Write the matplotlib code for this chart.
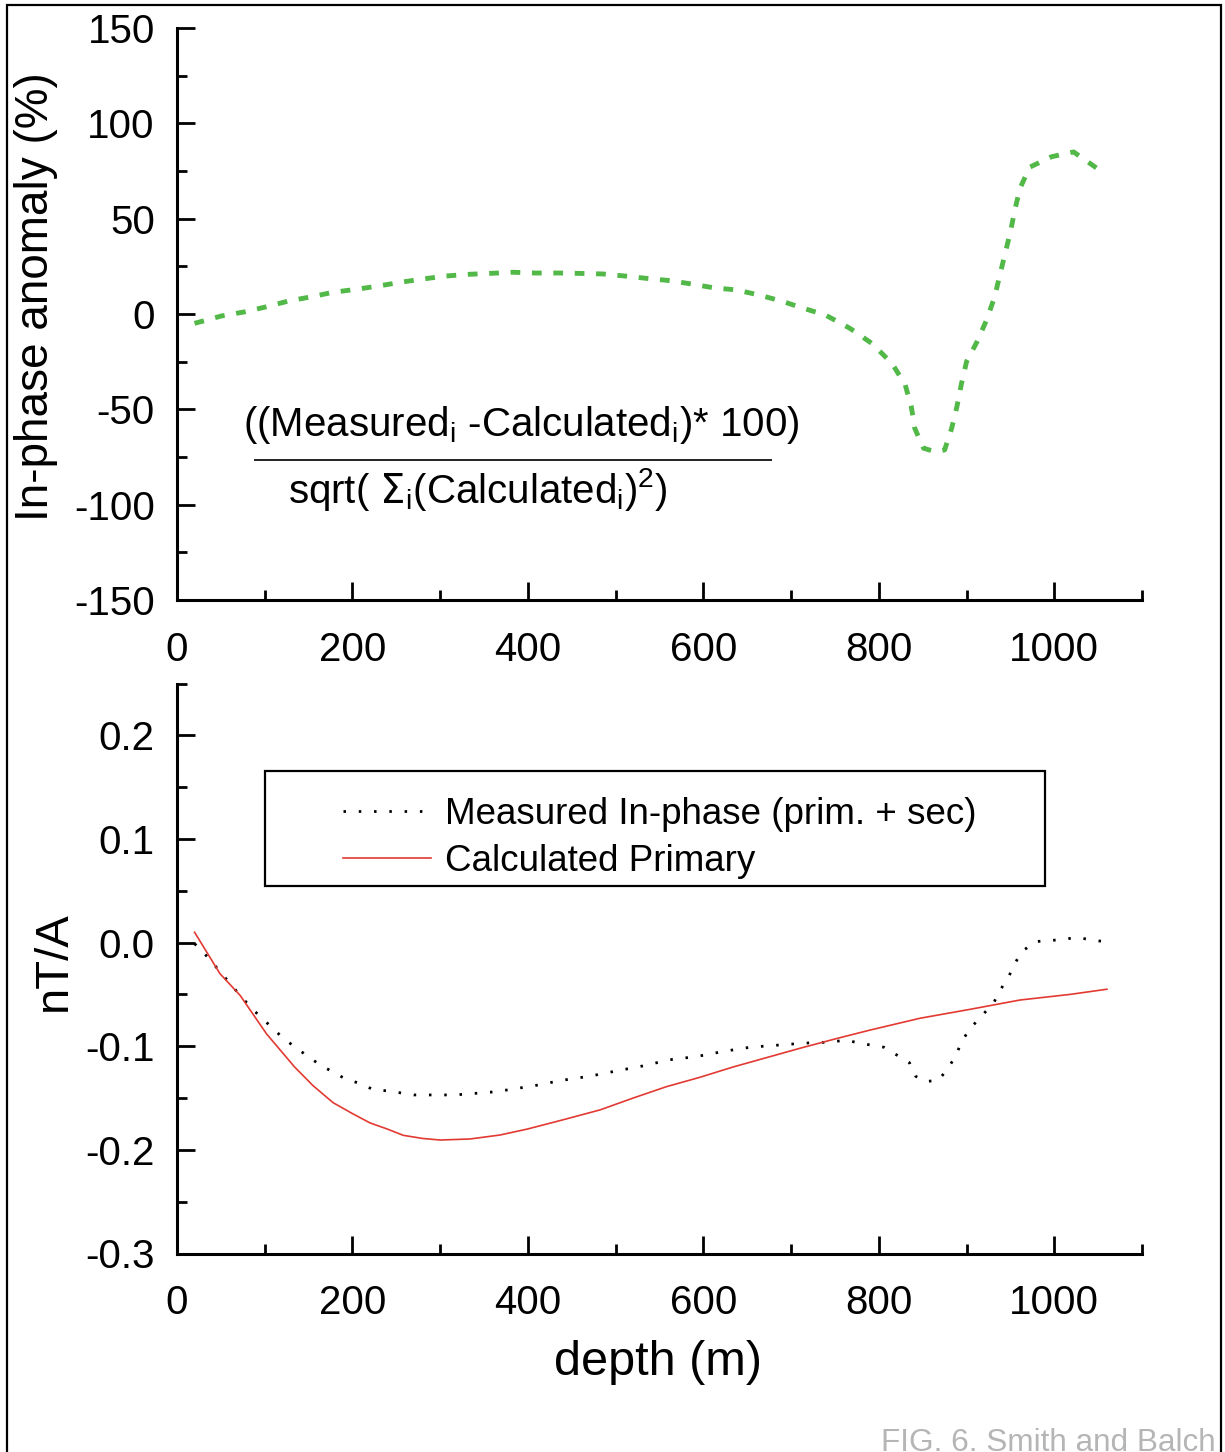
import matplotlib
matplotlib.use("Agg")
import matplotlib.pyplot as plt
from matplotlib.patches import Rectangle
from matplotlib.ticker import MultipleLocator

# ---------------- data ----------------
anom_depth = [20, 51, 78, 102, 127, 154, 178, 205, 230, 254, 281, 306, 332, 357, 383,
              408, 435, 459, 485, 511, 535, 562, 587, 611, 638, 663, 689, 714, 739,
              767, 792, 815, 830, 837, 841, 851, 864, 875, 883, 889, 894, 900, 912,
              923, 932, 938, 944, 950, 955, 961, 972, 997, 1022, 1050]
anom_pct = [-4.9, -1.0, 1.2, 3.8, 6.8, 9.1, 11.4, 13.0, 14.7, 16.6, 18.4, 19.9, 20.8,
            21.3, 21.9, 21.5, 21.5, 21.3, 21.0, 19.9, 18.7, 17.5, 15.7, 13.8, 12.6,
            10.0, 6.8, 3.0, -0.5, -7.5, -15.4, -25.9, -37.0, -48.6, -60.0, -70.4,
            -72.2, -71.3, -60.0, -48.6, -37.0, -25.0, -14.5, -3.0, 9.0, 20.5, 31.8,
            43.0, 54.5, 66.0, 77.0, 82.5, 85.0, 76.0]

meas_depth = [20, 35, 48, 60, 73, 87, 102, 117, 133, 148, 163, 178, 193, 209, 224,
              239, 255, 270, 286, 302, 317, 332, 347, 362, 378, 408, 438, 470, 500,
              531, 562, 592, 623, 653, 684, 715, 745, 763, 777, 792, 806, 835, 842,
              853, 868, 879, 888, 894, 904, 917, 931, 939, 948, 955, 964, 979, 995,
              1010, 1025, 1040, 1056]
meas_nTA = [-0.001, -0.014, -0.027, -0.039, -0.052, -0.065, -0.077, -0.089, -0.100,
            -0.109, -0.118, -0.125, -0.132, -0.136, -0.142, -0.143, -0.145, -0.147,
            -0.147, -0.147, -0.147, -0.146, -0.145, -0.144, -0.142, -0.138, -0.133,
            -0.129, -0.124, -0.119, -0.113, -0.110, -0.105, -0.101, -0.099, -0.097,
            -0.096, -0.094, -0.097, -0.099, -0.101, -0.116, -0.129, -0.134, -0.133,
            -0.121, -0.109, -0.096, -0.083, -0.071, -0.058, -0.045, -0.033, -0.020,
            -0.008, 0.001, 0.002, 0.003, 0.005, 0.003, 0.001]

calc_depth = [20, 49, 72, 102, 134, 155, 178, 200, 220, 240, 258, 280, 300, 334, 368,
              399, 440, 482, 520, 558, 596, 634, 672, 710, 750, 790, 847, 904, 961,
              1018, 1060]
calc_nTA = [0.010, -0.030, -0.051, -0.088, -0.120, -0.138, -0.1545, -0.165, -0.174,
            -0.180, -0.186, -0.189, -0.1905, -0.1895, -0.1857, -0.180, -0.171, -0.1615,
            -0.150, -0.139, -0.130, -0.120, -0.111, -0.102, -0.093, -0.0844, -0.073,
            -0.0644, -0.0554, -0.050, -0.045]

top_yticks = [-150, -100, -50, 0, 50, 100, 150]
bot_yticks = [-0.3, -0.2, -0.1, 0.0, 0.1, 0.2]
bot_ytick_labels = ["-0.3", "-0.2", "-0.1", "0.0", "0.1", "0.2"]
xticks = [0, 200, 400, 600, 800, 1000]

legend_labels = ["Measured In-phase (prim. + sec)", "Calculated Primary"]
top_ylabel = "In-phase anomaly (%)"
bot_ylabel = "nT/A"
xlabel = "depth (m)"
caption = "FIG. 6. Smith and Balch"

# ---------------- style ----------------
FONT = ["Liberation Sans Narrow", "Liberation Sans", "DejaVu Sans"]
plt.rcParams["font.family"] = FONT
plt.rcParams["axes.linewidth"] = 2.2
plt.rcParams["axes.unicode_minus"] = False

W, H = 1225, 1452
fig = plt.figure(figsize=(W / 100, H / 100), dpi=100)

GREEN = "#52b848"
RED = "#e23a32"
TICKFS = 29


def style_axes(ax):
    for s in ("top", "right"):
        ax.spines[s].set_visible(False)
    ax.tick_params(which="major", direction="in", length=13, width=2.0,
                   labelsize=TICKFS, pad=16)
    ax.tick_params(which="minor", direction="in", length=7, width=2.0)
    ax.tick_params(axis="x", which="major", pad=22)
    ax.xaxis.set_minor_locator(MultipleLocator(100))
    ax.set_xlim(0, 1100)
    ax.set_xticks(xticks)


# top axes
ax1 = fig.add_axes([177 / W, 1 - 600 / H, 965 / W, 572 / H])
style_axes(ax1)
ax1.plot(anom_depth, anom_pct, color=GREEN, lw=3.5, linestyle=(0, (2.0, 2.4)),
         solid_capstyle="butt", dash_capstyle="butt")
ax1.set_ylim(-150, 150)
ax1.set_yticks(top_yticks)
ax1.yaxis.set_minor_locator(MultipleLocator(25))
ax1.set_ylabel(top_ylabel, fontsize=33)
ax1.yaxis.set_label_coords(-0.123, 0.53)

# formula
ax1.text(392, -58, r"((Measured$_\mathregular{i}$ -Calculated$_\mathregular{i}$)* 100)",
         fontsize=29, ha="center", va="center")
ax1.plot([89, 677], [-76.6, -76.6], color="#222222", lw=1.4, clip_on=False)
ax1.text(343, -92, r"sqrt( $\Sigma_\mathregular{i}$(Calculated$_\mathregular{i}$)$^\mathregular{2}$)",
         fontsize=29, ha="center", va="center")

# bottom axes
ax2 = fig.add_axes([177 / W, 1 - 1253.5 / H, 965 / W, 570 / H])
style_axes(ax2)
l1, = ax2.plot(meas_depth, meas_nTA, color="black", lw=2.0, linestyle=(0, (0.9, 4.6)))
l2, = ax2.plot(calc_depth, calc_nTA, color=RED, lw=1.2)
ax2.set_ylim(-0.3, 0.25)
ax2.set_yticks(bot_yticks)
ax2.set_yticklabels(bot_ytick_labels)
ax2.yaxis.set_minor_locator(MultipleLocator(0.05))
ax2.set_ylabel(bot_ylabel, fontsize=34)
ax2.yaxis.set_label_coords(-0.105, 0.513)
ax2.set_xlabel(xlabel, fontsize=35)
ax2.xaxis.set_label_coords(0.498, -0.152)

# legend frame + legend
ax2.add_patch(Rectangle((88 / 965, (1253.5 - 886) / 570), 780 / 965, 115 / 570,
                        transform=ax2.transAxes, fill=False, lw=1.6,
                        edgecolor="black", clip_on=False))
leg = ax2.legend([l1, l2], legend_labels, loc="upper left",
                 bbox_to_anchor=((343 - 177) / 965, (1253.5 - 797) / 570),
                 frameon=False, fontsize=26.5, borderpad=0, borderaxespad=0,
                 handlelength=2.4, handletextpad=0.38, labelspacing=0.33)

# figure border
fig.patches.append(Rectangle((7 / W, -0.02), 1214 / W, 1 - 5 / H + 0.02,
                             transform=fig.transFigure, fill=False, lw=1.6,
                             edgecolor="black"))

fig.text(881 / W, 0.0004, caption, fontsize=22.7, color="#b5b5b5",
         family=["Liberation Sans", "DejaVu Sans"], ha="left", va="baseline")

fig.savefig("out.png", dpi=100)
